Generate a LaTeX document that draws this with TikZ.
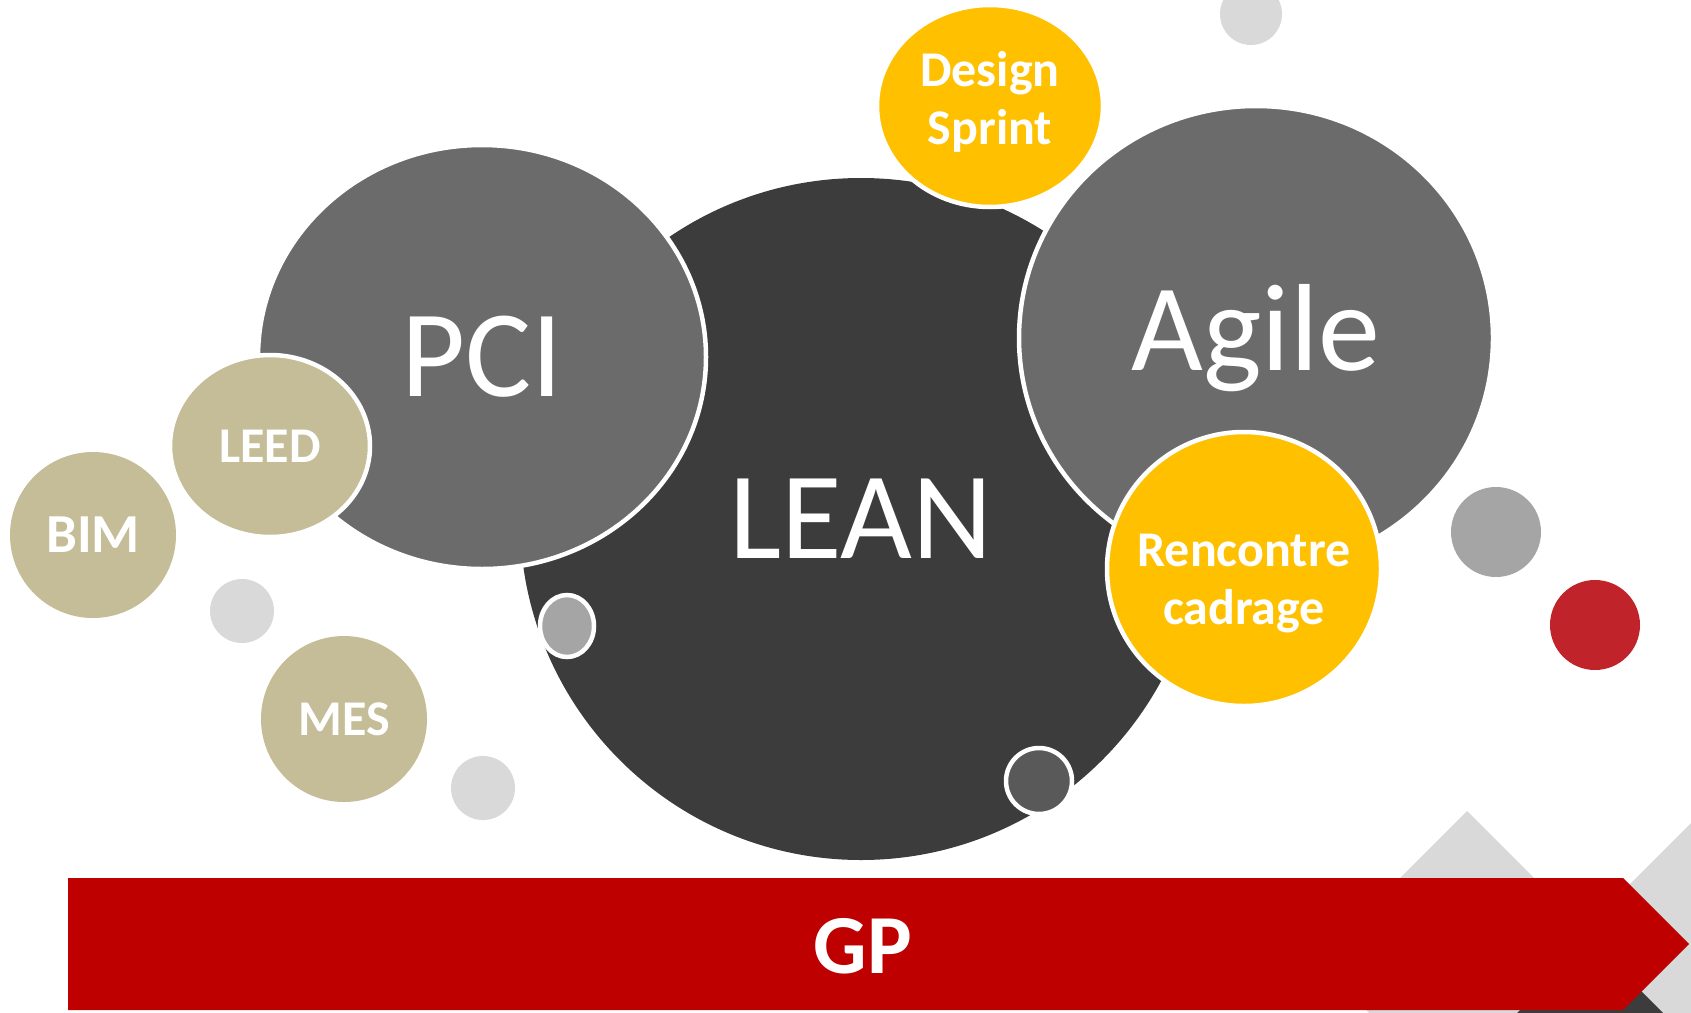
\documentclass[tikz,border=0pt]{standalone}
\usepackage{fontspec}
\setmainfont{Carlito}
\usepackage{xcolor}
\usetikzlibrary{positioning,shapes.geometric}
\definecolor{leangray}{HTML}{3C3C3C}
\definecolor{midgray}{HTML}{6B6B6B}
\definecolor{sunyellow}{HTML}{FFC000}
\definecolor{sand}{HTML}{C4BD97}
\definecolor{palegray}{HTML}{D9D9D9}
\definecolor{dotgray}{HTML}{A5A5A5}
\definecolor{darkdot}{HTML}{595959}
\definecolor{gpred}{HTML}{BE0000}
\definecolor{dotred}{HTML}{C0232A}
\tikzset{
bubble/.style={circle, inner sep=0pt, text=white, draw=white, line width=4.5pt},
oval/.style={ellipse, inner sep=0pt, text=white, draw=white, line width=4.5pt},
bigtext/.style={font=\fontsize{124}{124}\selectfont},
smalltext/.style={text=white, font=\bfseries\fontsize{50}{58}\selectfont, align=center},
dot/.style={circle, inner sep=0pt, minimum size=#1},
ring/.style={draw=white, line width=4.5pt}
}

\begin{document}
\begin{tikzpicture}[x=1pt,y=-1pt]
\useasboundingbox (0,0) rectangle (1691,1012);
\clip (0,0) rectangle (1691,1012);

% grey diamonds behind the arrow
\fill[palegray] (1467,811) -- (1617,961) -- (1467,1111) -- (1317,961) -- cycle;
\fill[palegray] (1760,754) -- (1960,954) -- (1760,1154) -- (1560,954) -- cycle;
\fill[leangray] (1590,940) -- (1700,1050) -- (1590,1160) -- (1480,1050) -- cycle;

% big bubbles
\node[circle, inner sep=0pt, minimum size=682pt, fill=leangray, text=white, bigtext] (lean) at (861,519) {LEAN};
\node[oval, minimum width=448pt, minimum height=424pt, fill=midgray, bigtext] (pci) at (482,357) {PCI};
\node[oval, minimum width=200pt, minimum height=182pt, fill=sand, smalltext] (leed) at (270,446) {LEED};
\node[oval, minimum width=474pt, minimum height=464pt, fill=midgray, bigtext] (agile) at (1256,338) {Agile};
\node[oval, minimum width=226pt, minimum height=202pt, fill=sunyellow] (sprint) at (990,106) {};
\node[smalltext] (sprinttext) at ([yshift=4pt]sprint.center) {Design\\Sprint};
\node[bubble, minimum size=274pt, fill=sunyellow] (cadrage) at (1244,569) {};
\node[smalltext] (cadragetext) at ([yshift=-15pt]cadrage.center) {Rencontre\\cadrage};

% bubbles on the left
\node[circle, inner sep=0pt, minimum size=166pt, fill=sand, smalltext, font=\bfseries\fontsize{55}{55}\selectfont] (bim) at (93,535) {BIM};
\node[circle, inner sep=0pt, minimum size=166pt, fill=sand, smalltext] (mes) at (344,719) {MES};

% small dots
\foreach \n/\x/\y/\s/\c in {d1/1251/14/62/palegray, d2/242/611/64/palegray, d3/483/788/64/palegray,
  d4/1496/532/90/dotgray, d5/1595/625/90/dotred}{
  \node[dot=\s pt, fill=\c] (\n) at (\x,\y) {};
}
\node[ellipse, inner sep=0pt, minimum width=54pt, minimum height=62pt, fill=dotgray, ring] (d6) at (567,626) {};
\node[dot=66pt, fill=darkdot, ring] (d7) at (1039,781) {};

% GP arrow
\fill[gpred] (68,878) -- (1623,878) -- (1689,944) -- (1623,1010) -- (68,1010) -- cycle;
\node[text=white, font=\bfseries\fontsize{84}{84}\selectfont] (gp) at (863,946) {GP};
\end{tikzpicture}
\end{document}
